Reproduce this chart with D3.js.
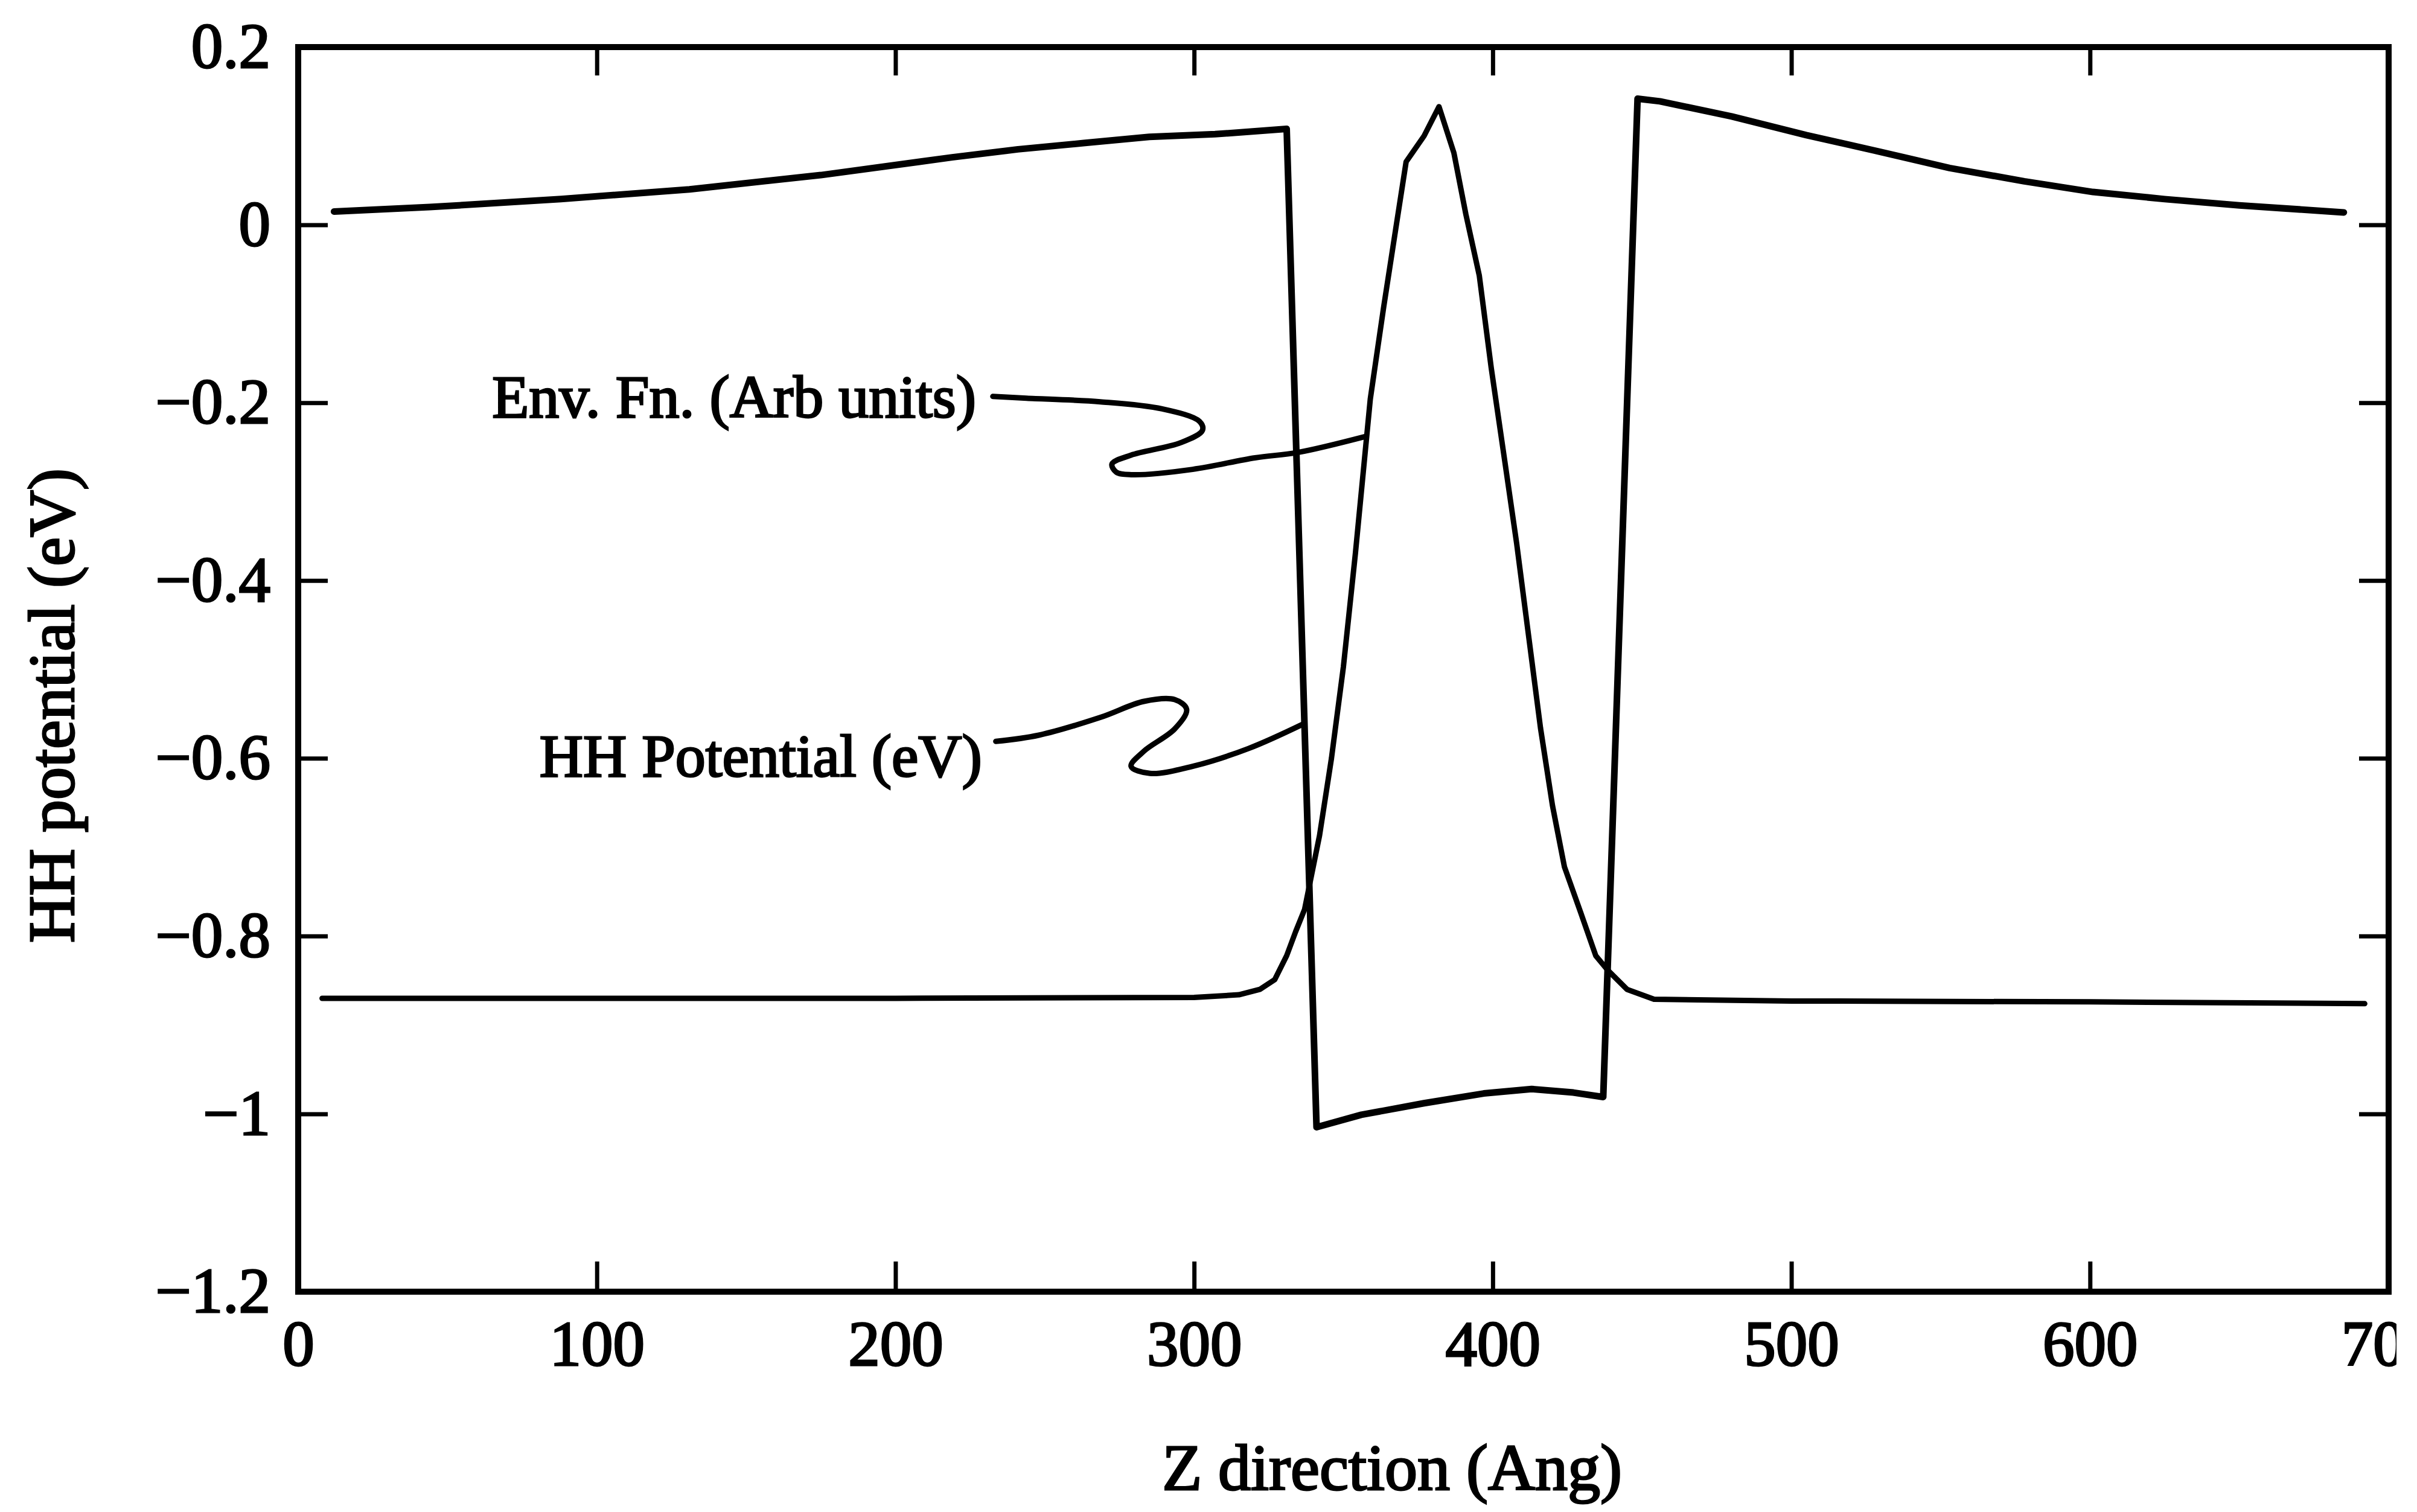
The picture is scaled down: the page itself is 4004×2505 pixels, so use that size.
<!DOCTYPE html>
<html>
<head>
<meta charset="utf-8">
<script src="https://cdn.jsdelivr.net/npm/d3@7"></script>
<style>
  html, body { margin: 0; padding: 0; background: #fff; }
  svg { display: block; }
  text { font-family: "Liberation Serif", "Times New Roman", serif; fill: #000; }
</style>
</head>
<body>
<script>
// ---------- data ----------
const xTickValues = [0, 100, 200, 300, 400, 500, 600, 700];
const xTickLabels = ["0", "100", "200", "300", "400", "500", "600", "700"];
const yTickValues = [0.2, 0, -0.2, -0.4, -0.6, -0.8, -1, -1.2];
const yTickLabels = ["0.2", "0", "\u22120.2", "\u22120.4", "\u22120.6", "\u22120.8", "\u22121", "\u22121.2"];

// HH potential (eV)
const hhZ = [12, 44, 88, 131, 175, 219, 241, 263, 285, 307, 331,
             341, 356, 377, 397, 413, 427, 437,
             448.5, 456, 480, 505, 530, 553, 578, 601, 625, 650, 685];
const hhV = [0.015, 0.020, 0.029, 0.040, 0.056, 0.076, 0.085, 0.092, 0.099, 0.102, 0.108,
             -1.015, -1.001, -0.988, -0.977, -0.972, -0.976, -0.981,
             0.142, 0.139, 0.122, 0.101, 0.082, 0.064, 0.049, 0.037, 0.029, 0.022, 0.014];

// Envelope function (arb units)
const envZ = [8, 100, 200, 300, 315, 322, 327, 331, 334, 337, 342, 346, 350, 354, 359, 363.5, 367.5, 371,
              377, 382, 387, 391, 395.5, 399.5, 404, 408, 412, 416, 420, 424, 429.5, 434.5, 438.7, 445, 454,
              500, 600, 692];
const envV = [-0.870, -0.870, -0.870, -0.869, -0.866, -0.860, -0.849, -0.822, -0.795, -0.770, -0.687, -0.600, -0.497, -0.370, -0.196, -0.092, -0.005, 0.071,
              0.100, 0.133, 0.081, 0.012, -0.057, -0.161, -0.265, -0.358, -0.462, -0.566, -0.653, -0.722, -0.774, -0.822, -0.839, -0.860, -0.871,
              -0.873, -0.874, -0.876];

// annotation labels and their leader curves (data units)
const annotationTexts = ["Env. Fn. (Arb units)", "HH Potential (eV)"];
const annotationTextZ = [227, 229];
const annotationTextV = [-0.216, -0.620];
const envLeaderZ = [232.6, 243.9, 268.6, 289.3, 301.8, 302.8, 295.5, 278.9, 272.5, 273.9, 278.9, 299.5, 320.4, 334.7, 357.4];
const envLeaderV = [-0.193, -0.195, -0.199, -0.207, -0.221, -0.231, -0.245, -0.259, -0.269, -0.278, -0.281, -0.275, -0.262, -0.256, -0.238];
const hhLeaderZ = [233.6, 248.0, 268.6, 283.2, 293.5, 297.5, 293.5, 283.2, 278.9, 285.2, 299.5, 318.2, 336.8];
const hhLeaderV = [-0.581, -0.574, -0.554, -0.536, -0.534, -0.545, -0.567, -0.592, -0.609, -0.617, -0.609, -0.589, -0.561];

const xTitle = "Z direction (Ang)";
const yTitle = "HH potential (eV)";

// ---------- layout ----------
const W = 4004, H = 2505;
const plot = { left: 494, right: 3957, top: 78, bottom: 2140 };

const svg = d3.select("body").append("svg").attr("width", W).attr("height", H);
svg.append("defs").append("clipPath").attr("id", "pageclip")
  .append("rect").attr("x", 0).attr("y", 0).attr("width", 3970).attr("height", H);
const root = svg.append("g").attr("clip-path", "url(#pageclip)");

const x = d3.scaleLinear().domain([0, 700]).range([plot.left, plot.right]);
const y = d3.scaleLinear().domain([-1.2, 0.2]).range([plot.bottom, plot.top]);

const FS = 105;

// axes (inward ticks on all four sides)
function styleAxis(g) {
  g.select(".domain").remove();
  g.selectAll(".tick line").attr("stroke", "#000").attr("stroke-width", 7);
  g.selectAll(".tick text")
    .style("font-family", '"Liberation Serif", "Times New Roman", serif')
    .style("font-size", FS + "px")
    .attr("fill", "#000").attr("stroke", "#000").attr("stroke-width", 3);
}

root.append("g").attr("transform", `translate(0,${plot.bottom})`)
  .call(d3.axisBottom(x).tickValues(xTickValues).tickSize(-50).tickPadding(47)
        .tickFormat((d, i) => xTickLabels[i]))
  .call(styleAxis);
root.append("g").attr("transform", `translate(0,${plot.top})`)
  .call(d3.axisTop(x).tickValues(xTickValues).tickSize(-47).tickFormat(""))
  .call(styleAxis);
root.append("g").attr("transform", `translate(${plot.left},0)`)
  .call(d3.axisLeft(y).tickValues(yTickValues).tickSize(-49).tickPadding(46)
        .tickFormat((d, i) => yTickLabels[i]))
  .call(styleAxis);
root.append("g").attr("transform", `translate(${plot.right},0)`)
  .call(d3.axisRight(y).tickValues(yTickValues).tickSize(-49).tickFormat(""))
  .call(styleAxis);

// frame
root.append("rect")
  .attr("x", plot.left).attr("y", plot.top)
  .attr("width", plot.right - plot.left).attr("height", plot.bottom - plot.top)
  .attr("fill", "none").attr("stroke", "#000").attr("stroke-width", 10);

// curves
const line = d3.line().x(d => x(d[0])).y(d => y(d[1]));
const hhData = hhZ.map((z, i) => [z, hhV[i]]);
const envData = envZ.map((z, i) => [z, envV[i]]);

root.append("path").datum(hhData).attr("d", line)
  .attr("fill", "none").attr("stroke", "#000").attr("stroke-width", 11)
  .attr("stroke-linejoin", "round").attr("stroke-linecap", "round");
root.append("path").datum(envData).attr("d", line)
  .attr("fill", "none").attr("stroke", "#000").attr("stroke-width", 9)
  .attr("stroke-linejoin", "round").attr("stroke-linecap", "round");

// leader curves
const leader = d3.line().x(d => x(d[0])).y(d => y(d[1])).curve(d3.curveCatmullRom.alpha(0.5));
[[envLeaderZ, envLeaderV], [hhLeaderZ, hhLeaderV]].forEach(([zs, vs]) => {
  root.append("path").datum(zs.map((z, i) => [z, vs[i]])).attr("d", leader)
    .attr("fill", "none").attr("stroke", "#000").attr("stroke-width", 9)
    .attr("stroke-linecap", "round").attr("stroke-linejoin", "round");
});

// annotation texts
annotationTexts.forEach((t, i) => {
  root.append("text")
    .attr("x", x(annotationTextZ[i])).attr("y", y(annotationTextV[i]))
    .attr("text-anchor", "end")
    .style("font-size", "100px")
    .attr("stroke", "#000").attr("stroke-width", 3)
    .text(t);
});

// axis titles
root.append("text")
  .attr("x", 2306).attr("y", 2468)
  .attr("text-anchor", "middle")
  .style("font-size", "108px")
  .attr("stroke", "#000").attr("stroke-width", 3)
  .text(xTitle);
root.append("text")
  .attr("transform", `translate(122,1169) rotate(-90)`)
  .attr("text-anchor", "middle")
  .style("font-size", "108px")
  .attr("stroke", "#000").attr("stroke-width", 3)
  .text(yTitle);
</script>
</body>
</html>
